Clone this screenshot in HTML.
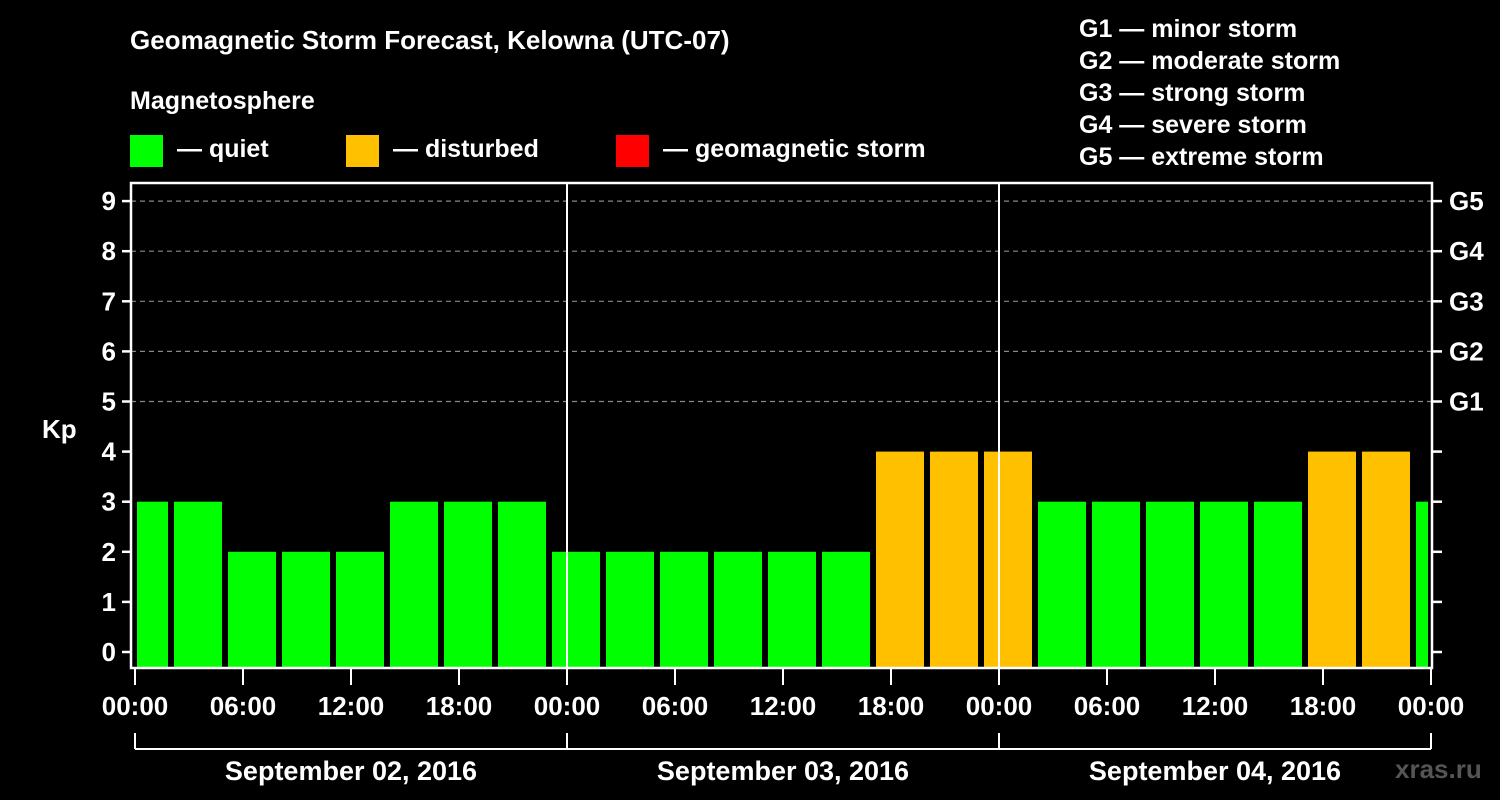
<!DOCTYPE html>
<html><head><meta charset="utf-8"><style>
html,body{margin:0;padding:0;background:#000;}
svg{display:block;font-family:"Liberation Sans",Arial,sans-serif;font-weight:bold;}
</style></head><body>
<svg id="chart" width="1500" height="800" viewBox="0 0 1500 800">
<rect width="1500" height="800" fill="#000"/>
<text x="130" y="49" fill="#fff" font-size="26">Geomagnetic Storm Forecast, Kelowna (UTC-07)</text>
<text x="130" y="109" fill="#fff" font-size="25">Magnetosphere</text>
<g><rect x="130" y="135" width="33" height="32" fill="#00ff00"/><text x="177" y="157" fill="#fff" font-size="25">— quiet</text></g>
<g><rect x="346" y="135" width="33" height="32" fill="#ffc000"/><text x="393" y="157" fill="#fff" font-size="25">— disturbed</text></g>
<g><rect x="616" y="135" width="33" height="32" fill="#ff0000"/><text x="663" y="157" fill="#fff" font-size="25">— geomagnetic storm</text></g>
<g fill="#fff" font-size="25">
<text x="1079" y="37">G1 — minor storm</text>
<text x="1079" y="69">G2 — moderate storm</text>
<text x="1079" y="101">G3 — strong storm</text>
<text x="1079" y="133">G4 — severe storm</text>
<text x="1079" y="165">G5 — extreme storm</text>
</g>
<text x="42" y="438" fill="#fff" font-size="26">Kp</text>
<text x="1395" y="778" fill="#555" font-size="26">xras.ru</text>
<defs><clipPath id="pc"><rect x="137" y="183" width="1291" height="485"/></clipPath></defs>
<g id="grid"></g>
<g id="bars" clip-path="url(#pc)"></g>
<g id="axes"></g>
</svg>
<script>
const kpValues=[3,3,2,2,2,3,3,3,2,2,2,2,2,2,4,4,4,3,3,3,3,3,4,4,3];
const yTicks=[0,1,2,3,4,5,6,7,8,9];
const gLabels=["G1","G2","G3","G4","G5"];
const xTickLabels=["00:00","06:00","12:00","18:00","00:00","06:00","12:00","18:00","00:00","06:00","12:00","18:00","00:00"];
const dayLabels=["September 02, 2016","September 03, 2016","September 04, 2016"];
const NS="http://www.w3.org/2000/svg";
const X0=135,PXH=18,Y0=652,PXK=50.1,BOT=668;
function xs(h){return X0+h*PXH;}
function ys(v){return Y0-v*PXK;}
function mk(tag,attrs,parent,text){const e=document.createElementNS(NS,tag);for(const k in attrs)e.setAttribute(k,attrs[k]);if(text!==undefined)e.textContent=text;parent.appendChild(e);return e;}
const grid=document.getElementById('grid'),bars=document.getElementById('bars'),axes=document.getElementById('axes');
yTicks.forEach(v=>{if(v>=5){const l=mk('line',{x1:131,x2:1432,y1:ys(v),y2:ys(v),stroke:'#888','stroke-width':1.2,'stroke-dasharray':'5,4'},grid);

}});
kpValues.forEach((v,i)=>{const c=0.5+3*i;const col=v>=5?'#ff0000':(v>=4?'#ffc000':'#00ff00');
const r=mk('rect',{x:xs(c)-24,y:ys(v),width:48,height:BOT-ys(v),fill:col},bars);

});
mk('path',{d:'M131,668 L131,183 L1432,183 L1432,668 Z',fill:'none',stroke:'#fff','stroke-width':2.5},axes);
[24,48].forEach(h=>mk('line',{x1:xs(h),x2:xs(h),y1:183,y2:668,stroke:'#fff','stroke-width':2},axes));
yTicks.forEach(v=>{mk('line',{x1:122,x2:131,y1:ys(v),y2:ys(v),stroke:'#fff','stroke-width':2.5},axes);
mk('line',{x1:1432,x2:1442,y1:ys(v),y2:ys(v),stroke:'#fff','stroke-width':2.5},axes);
const t=mk('text',{x:116,y:ys(v)+9,fill:'#fff','font-size':26,'text-anchor':'end'},axes,String(v));

});
gLabels.forEach((g,i)=>{const t=mk('text',{x:1449,y:ys(5+i)+9,fill:'#fff','font-size':26},axes,g);

});
xTickLabels.forEach((s,i)=>{const h=i*6;mk('line',{x1:xs(h),x2:xs(h),y1:668,y2:685,stroke:'#fff','stroke-width':2},axes);
const t=mk('text',{x:xs(h),y:715,fill:'#fff','font-size':26,'text-anchor':'middle'},axes,s);

});
mk('line',{x1:xs(0),x2:xs(72),y1:749,y2:749,stroke:'#fff','stroke-width':2},axes);
[0,24,48,72].forEach(h=>mk('line',{x1:xs(h),x2:xs(h),y1:733,y2:749,stroke:'#fff','stroke-width':2},axes));
dayLabels.forEach((d,i)=>{const t=mk('text',{x:xs(12+24*i),y:780,fill:'#fff','font-size':27,'text-anchor':'middle'},axes,d);

});
</script>
</body></html>
